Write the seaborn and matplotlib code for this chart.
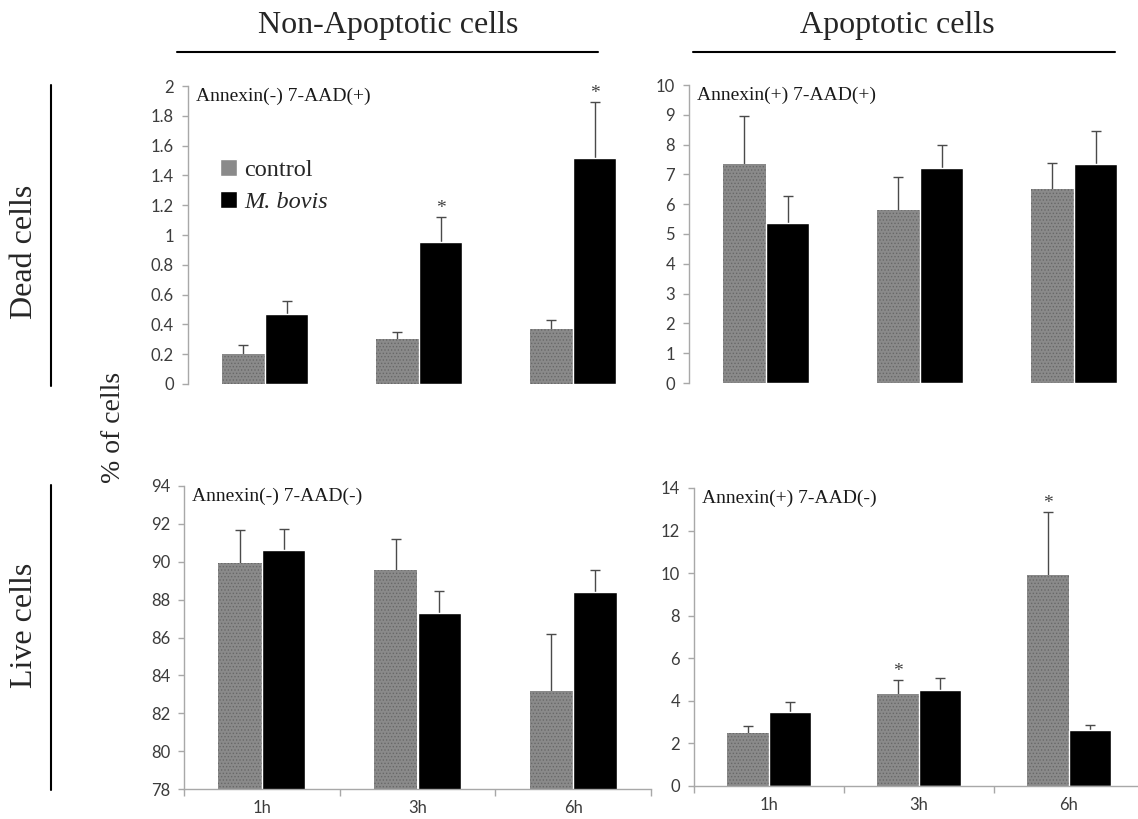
import matplotlib
matplotlib.use("Agg")
import matplotlib.pyplot as plt
from matplotlib.lines import Line2D
from matplotlib.ticker import FuncFormatter
import numpy as np
import pandas as pd
import seaborn as sns

# values (mean and SD, % of cells)
times = ["1h", "3h", "6h"]
groups = ["control", "M. bovis"]

dead_non_ctrl = [0.20, 0.30, 0.37]
dead_non_ctrl_sd = [0.06, 0.05, 0.06]
dead_non_bovis = [0.47, 0.95, 1.52]
dead_non_bovis_sd = [0.09, 0.17, 0.37]

dead_apo_ctrl = [7.36, 5.79, 6.52]
dead_apo_ctrl_sd = [1.61, 1.13, 0.87]
dead_apo_bovis = [5.36, 7.22, 7.36]
dead_apo_bovis_sd = [0.91, 0.76, 1.09]

live_non_ctrl = [89.92, 89.54, 83.16]
live_non_ctrl_sd = [1.74, 1.68, 3.02]
live_non_bovis = [90.64, 87.27, 88.38]
live_non_bovis_sd = [1.11, 1.21, 1.19]

live_apo_ctrl = [2.51, 4.31, 9.89]
live_apo_ctrl_sd = [0.30, 0.68, 2.96]
live_apo_bovis = [3.50, 4.50, 2.62]
live_apo_bovis_sd = [0.43, 0.56, 0.23]

W, H = 1138, 819
SERIF = "Liberation Serif"
palette = {"control": "#8a8a8a", "M. bovis": "black"}

sns.set_style("white")
plt.rcParams["font.family"] = ["Lato", "DejaVu Sans"]
plt.rcParams["hatch.linewidth"] = 0.6

fig = plt.figure(figsize=(W / 100, H / 100), dpi=100)


def rect(l, t, r, b):
    return [l / W, 1 - b / H, (r - l) / W, (b - t) / H]


def panel(box, ctrl, ctrl_sd, bovis, bovis_sd, ylim, step, label, stars, bottom, legend=False):
    ax = fig.add_axes(rect(*box))
    df = pd.DataFrame({
        "time": times * 2,
        "group": [groups[0]] * 3 + [groups[1]] * 3,
        "value": ctrl + bovis,
    })
    sns.barplot(data=df, x="time", y="value", hue="group", order=times, hue_order=groups,
                palette=palette, width=0.56, errorbar=None, saturation=1, ax=ax,
                legend=legend, zorder=2)
    for p in ax.containers[0]:
        p.set_hatch(".....")
        p.set_edgecolor("#686868")
        p.set_linewidth(0)

    # upper half of the SD bars shows above each bar
    for cont, sd, grp in zip(ax.containers, [ctrl_sd, bovis_sd], groups):
        xs = [p.get_x() + p.get_width() / 2 for p in cont]
        ys = [p.get_height() for p in cont]
        ax.errorbar(xs, ys, yerr=sd, fmt="none", ecolor="#4a4a4a", elinewidth=1,
                    capsize=3.6, capthick=1, zorder=1)
        for i, t in enumerate(times):
            if (grp, t) in stars:
                ax.annotate("*", (xs[i], ys[i] + sd[i]), xytext=(0, 0), textcoords="offset points",
                            ha="center", va="bottom", fontsize=14, family=SERIF, color="#404040")

    ax.set_ylim(*ylim)
    ax.set_xlim(-0.5, 2.5)
    ax.set_yticks(np.arange(ylim[0], ylim[1] + step / 2, step))
    ax.yaxis.set_major_formatter(FuncFormatter(lambda v, _: f"{v:g}"))
    ax.set_xlabel("")
    ax.set_ylabel("")
    sns.despine(ax=ax, bottom=not bottom)
    for s in ax.spines.values():
        s.set_color("#a8a8a8")
        s.set_linewidth(1)
    ax.tick_params(axis="y", direction="out", left=True, length=4, width=1, color="#a8a8a8",
                   labelcolor="#3c3c3c", labelsize=12, pad=6)
    if bottom:
        ax.set_xticks([-0.5, 0.5, 1.5, 2.5], minor=True)
        ax.tick_params(axis="x", which="minor", bottom=True, direction="out", length=5, width=1,
                       color="#a8a8a8")
        ax.tick_params(axis="x", which="major", length=0, labelcolor="#3c3c3c", labelsize=12, pad=8)
    else:
        ax.set_xticks([])
    ax.text(0.018, 0.965, label, transform=ax.transAxes, family=SERIF, fontsize=14,
            ha="left", va="center", color="#1a1a1a")
    return ax


ax1 = panel((188, 86, 650, 384), dead_non_ctrl, dead_non_ctrl_sd, dead_non_bovis, dead_non_bovis_sd,
            (0, 2), 0.2, "Annexin(-) 7-AAD(+)", {("M. bovis", "3h"), ("M. bovis", "6h")},
            bottom=False, legend=True)
ax2 = panel((689, 85, 1151, 383), dead_apo_ctrl, dead_apo_ctrl_sd, dead_apo_bovis, dead_apo_bovis_sd,
            (0, 10), 1, "Annexin(+) 7-AAD(+)", set(), bottom=False)
ax3 = panel((184, 486, 651, 789), live_non_ctrl, live_non_ctrl_sd, live_non_bovis, live_non_bovis_sd,
            (78, 94), 2, "Annexin(-) 7-AAD(-)", set(), bottom=True)
ax4 = panel((694, 488, 1144, 786), live_apo_ctrl, live_apo_ctrl_sd, live_apo_bovis, live_apo_bovis_sd,
            (0, 14), 2, "Annexin(+) 7-AAD(-)", {("control", "3h"), ("control", "6h")},
            bottom=True)

# legend inside the first panel
handles, labels = ax1.get_legend_handles_labels()
leg = ax1.legend(handles, labels, loc="upper left", bbox_to_anchor=(220 / W, 1 - 159 / H),
                 bbox_transform=fig.transFigure, frameon=False, borderpad=0, borderaxespad=0,
                 handlelength=0.7, handleheight=0.7, handletextpad=0.3, labelspacing=0.42,
                 prop={"family": SERIF, "size": 17.5})
leg.get_texts()[1].set_style("italic")

# column and row headers
fig.text(388 / W, 1 - 25 / H, "Non-Apoptotic cells", family=SERIF, fontsize=23, ha="center", va="center")
fig.text(897 / W, 1 - 25 / H, "Apoptotic cells", family=SERIF, fontsize=23, ha="center", va="center")
fig.add_artist(Line2D([177 / W, 598 / W], [1 - 52 / H] * 2, color="black", lw=1.5, transform=fig.transFigure))
fig.add_artist(Line2D([693 / W, 1115 / W], [1 - 52 / H] * 2, color="black", lw=1.5, transform=fig.transFigure))

fig.text(25 / W, 1 - 252 / H, "Dead cells", family=SERIF, fontsize=23, rotation=90, ha="center", va="center")
fig.text(25 / W, 1 - 625 / H, "Live cells", family=SERIF, fontsize=23, rotation=90, ha="center", va="center")
fig.add_artist(Line2D([51 / W] * 2, [1 - 85 / H, 1 - 386 / H], color="black", lw=1.5, transform=fig.transFigure))
fig.add_artist(Line2D([51 / W] * 2, [1 - 485 / H, 1 - 790 / H], color="black", lw=1.5, transform=fig.transFigure))
fig.text(114 / W, 1 - 427 / H, "% of cells", family=SERIF, fontsize=20, rotation=90, ha="center", va="center")

fig.savefig("out.png", dpi=100, facecolor="white")
